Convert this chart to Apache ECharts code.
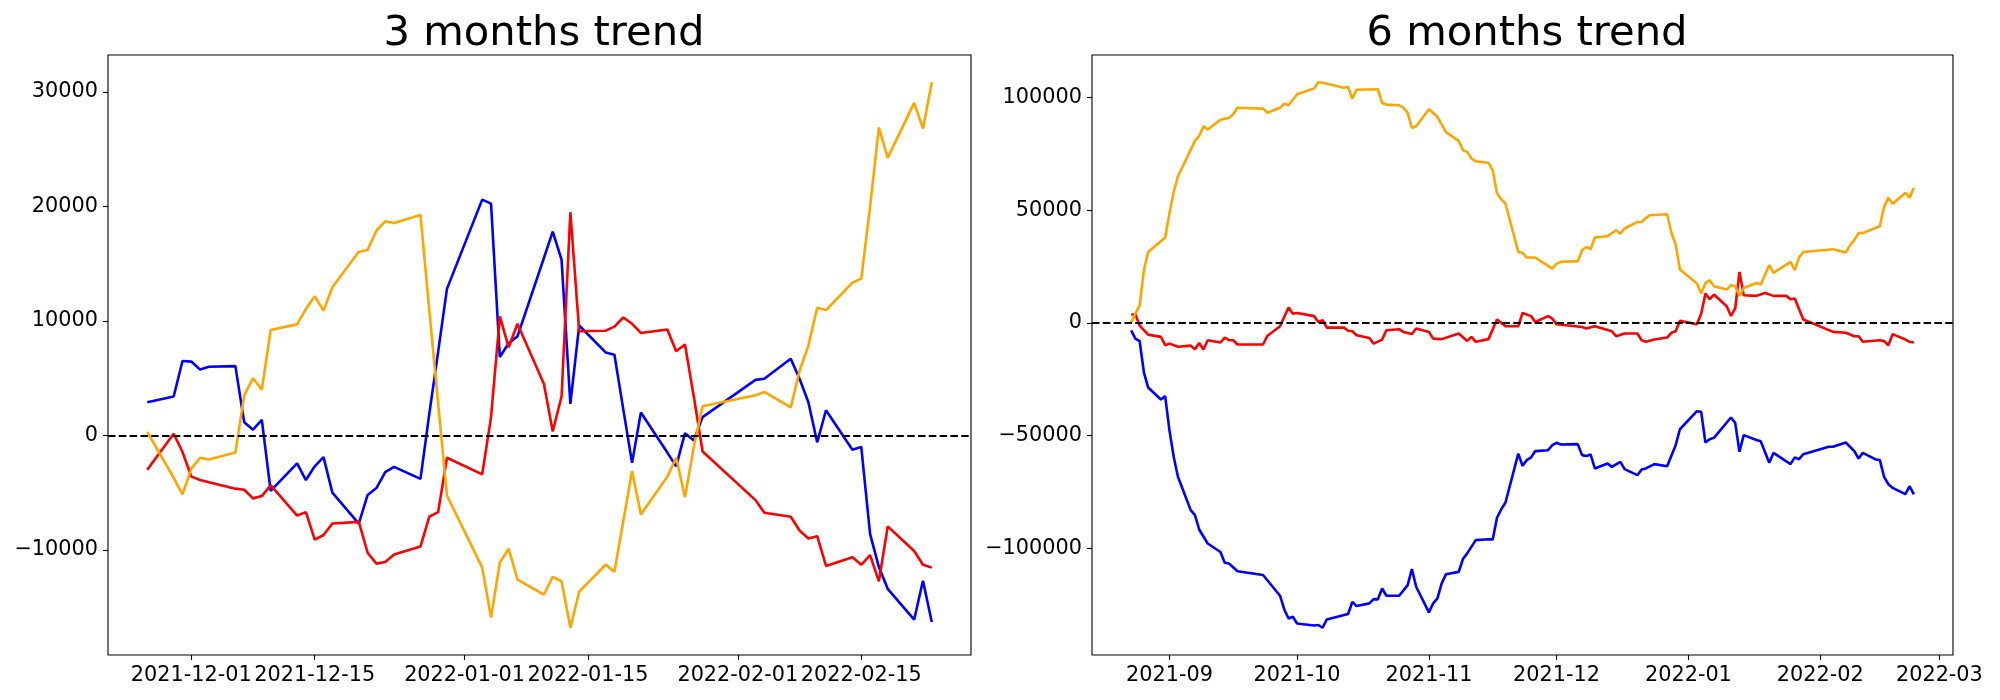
<!DOCTYPE html>
<html>
<head>
<meta charset="utf-8">
<script src="https://cdn.jsdelivr.net/npm/echarts@6/dist/echarts.min.js"></script>
<style>
html,body{margin:0;padding:0;background:#fff;}
#chart{width:2000px;height:700px;}
</style>
</head>
<body>
<div id="chart"></div>
<script>
// ---------- 3 months trend ----------
const leftDates = ['2021-11-26','2021-11-29','2021-11-30','2021-12-01','2021-12-02','2021-12-03','2021-12-06','2021-12-07','2021-12-08','2021-12-09',
'2021-12-10','2021-12-13','2021-12-14','2021-12-15','2021-12-16','2021-12-17','2021-12-20','2021-12-21','2021-12-22','2021-12-23',
'2021-12-24','2021-12-27','2021-12-28','2021-12-29','2021-12-30','2022-01-03','2022-01-04','2022-01-05','2022-01-06','2022-01-07',
'2022-01-10','2022-01-11','2022-01-12','2022-01-13','2022-01-14','2022-01-17','2022-01-18','2022-01-19','2022-01-20','2022-01-21',
'2022-01-24','2022-01-25','2022-01-26','2022-01-27','2022-01-28','2022-02-03','2022-02-04','2022-02-07','2022-02-08','2022-02-09',
'2022-02-10','2022-02-11','2022-02-14','2022-02-15','2022-02-16','2022-02-17','2022-02-18','2022-02-21','2022-02-22','2022-02-23'];
const leftBlue = [2900,3400,6500,6450,5750,6000,6050,1150,500,1350,
-4850,-2450,-3900,-2700,-1900,-5000,-7700,-5200,-4600,-3200,
-2750,-3800,1900,7300,12800,20600,20250,6850,8050,8650,
15500,17800,15350,2750,9600,7250,7050,2300,-2400,2000,
-1500,-2700,200,-450,1600,4850,4950,6700,4950,2900,
-600,2200,-1250,-1000,-8600,-11500,-13400,-16100,-12700,-16300];
const leftRed = [-3000,150,-1450,-3600,-3900,-4100,-4650,-4750,-5500,-5300,
-4350,-7000,-6700,-9100,-8700,-7700,-7550,-10250,-11200,-11050,
-10400,-9700,-7100,-6700,-1950,-3400,1600,10400,7700,9750,
4500,350,3400,19500,9100,9150,9500,10300,9750,8950,
9250,7350,7950,3400,-1400,-5650,-6750,-7100,-8300,-9000,
-8800,-11400,-10650,-11300,-10450,-12750,-7950,-10100,-11300,-11550];
const leftOrange = [300,-3700,-5150,-2900,-1950,-2100,-1500,3500,5000,4000,
9200,9700,11050,12150,10900,12950,16050,16200,17900,18700,
18550,19250,10900,2800,-5250,-11550,-15900,-11100,-9900,-12600,
-13900,-12350,-12750,-16800,-13650,-11300,-11900,-7500,-3100,-6900,
-3600,-1950,-5400,-1000,2550,3500,3800,2450,5650,7850,
11150,10950,13350,13700,20000,26900,24250,29050,26800,30850];
const leftXTicks = ['2021-12-01','2021-12-15','2022-01-01','2022-01-15','2022-02-01','2022-02-15'];
const leftYTicks = [-10000,0,10000,20000,30000];

// ---------- 6 months trend ----------
const rightOrangeDates = ['2021-08-23','2021-08-24','2021-08-25','2021-08-26','2021-08-27','2021-08-31',
'2021-09-01','2021-09-02','2021-09-03','2021-09-07','2021-09-08','2021-09-09','2021-09-10','2021-09-13','2021-09-15','2021-09-16','2021-09-17','2021-09-23','2021-09-24','2021-09-27','2021-09-28','2021-09-29',
'2021-10-01','2021-10-05','2021-10-06','2021-10-07','2021-10-12','2021-10-13','2021-10-14','2021-10-15','2021-10-20','2021-10-21','2021-10-22','2021-10-25','2021-10-26','2021-10-27','2021-10-28','2021-10-29',
'2021-11-01','2021-11-03','2021-11-05','2021-11-08','2021-11-09','2021-11-10','2021-11-11','2021-11-12','2021-11-15','2021-11-16','2021-11-17','2021-11-18','2021-11-19','2021-11-22','2021-11-23','2021-11-24','2021-11-26','2021-11-30',
'2021-12-01','2021-12-02','2021-12-06','2021-12-07','2021-12-08','2021-12-09','2021-12-10','2021-12-13','2021-12-14','2021-12-15','2021-12-16','2021-12-17','2021-12-20','2021-12-21','2021-12-22','2021-12-23','2021-12-27','2021-12-28','2021-12-29','2021-12-30',
'2022-01-03','2022-01-04','2022-01-05','2022-01-06','2022-01-07','2022-01-10','2022-01-11','2022-01-12','2022-01-13','2022-01-14','2022-01-17','2022-01-18','2022-01-20','2022-01-21','2022-01-25','2022-01-26','2022-01-27','2022-01-28',
'2022-02-04','2022-02-07','2022-02-08','2022-02-09','2022-02-10','2022-02-11','2022-02-15','2022-02-16','2022-02-17','2022-02-18','2022-02-21','2022-02-22','2022-02-23'];
const rightOrange = [0,4100,7800,23400,31500,37900,
48500,58100,65100,80800,83000,87300,85800,90200,91000,92600,95500,95100,93300,95500,97300,96600,
101500,104000,106800,106600,104400,104700,99500,103500,103700,97600,96900,96600,95500,93200,86500,87300,
94800,91400,84700,80800,76600,75900,72900,71700,71100,67700,57400,54900,52900,31500,31100,29000,29000,24100,
26300,27100,27400,32200,33700,32700,37900,38500,39900,41100,39600,41900,44800,44800,46600,47800,48200,39900,34800,23700,
17500,13000,17700,18900,16300,14800,16700,16300,12000,15500,17700,17000,25600,22200,27100,23400,29000,31500,
32700,31200,34500,36700,39900,39900,42900,51500,55600,52900,57700,55600,59900];

const rightRedDates = ['2021-08-23','2021-08-24','2021-08-25','2021-08-27','2021-08-30','2021-08-31',
'2021-09-01','2021-09-03','2021-09-06','2021-09-07','2021-09-08','2021-09-09','2021-09-10','2021-09-13','2021-09-14','2021-09-15','2021-09-16','2021-09-17','2021-09-23','2021-09-24','2021-09-27','2021-09-28','2021-09-29','2021-09-30',
'2021-10-01','2021-10-05','2021-10-06','2021-10-07','2021-10-08','2021-10-12','2021-10-13','2021-10-14','2021-10-15','2021-10-18','2021-10-19','2021-10-21','2021-10-22','2021-10-25','2021-10-26','2021-10-28','2021-10-29',
'2021-11-01','2021-11-02','2021-11-04','2021-11-08','2021-11-10','2021-11-11','2021-11-12','2021-11-15','2021-11-17','2021-11-19','2021-11-22','2021-11-23','2021-11-25','2021-11-26','2021-11-29','2021-11-30',
'2021-12-01','2021-12-07','2021-12-08','2021-12-10','2021-12-14','2021-12-15','2021-12-17','2021-12-20','2021-12-21','2021-12-22','2021-12-24','2021-12-27','2021-12-28','2021-12-29','2021-12-30',
'2022-01-03','2022-01-04','2022-01-05','2022-01-06','2022-01-07','2022-01-10','2022-01-11','2022-01-12','2022-01-13','2022-01-14','2022-01-17','2022-01-19','2022-01-21','2022-01-24','2022-01-25','2022-01-26','2022-01-28',
'2022-02-04','2022-02-07','2022-02-09','2022-02-10','2022-02-11','2022-02-15','2022-02-16','2022-02-17','2022-02-18','2022-02-21','2022-02-22','2022-02-23'];
const rightRed = [3700,3700,-1200,-5200,-6200,-9900,
-9200,-10600,-10100,-11700,-8900,-11800,-7700,-8700,-6500,-7700,-7700,-9600,-9600,-5800,-1500,2700,6800,4100,
4400,3000,400,1200,-2100,-2100,-3500,-3700,-5500,-6700,-9200,-7400,-3300,-2800,-4000,-4900,-2500,
-4000,-7000,-7200,-4700,-8000,-6200,-8400,-7200,1500,-1500,-1500,4400,3000,400,3000,1900,
-600,-1800,-2500,-1500,-3700,-5900,-4700,-4700,-7700,-8400,-7400,-6500,-4400,-3700,900,
-600,4100,13000,10500,12600,7400,3100,6400,22600,12300,12000,13300,12000,12000,10500,10800,1500,
-4000,-4400,-5900,-5900,-8400,-7700,-8100,-9900,-5000,-7400,-8400,-8700];

const rightBlueDates = ['2021-08-23','2021-08-24','2021-08-25','2021-08-26','2021-08-27','2021-08-30','2021-08-31',
'2021-09-01','2021-09-02','2021-09-03','2021-09-06','2021-09-07','2021-09-08','2021-09-10','2021-09-13','2021-09-14','2021-09-15','2021-09-17','2021-09-23','2021-09-27','2021-09-28','2021-09-29','2021-09-30',
'2021-10-01','2021-10-05','2021-10-06','2021-10-07','2021-10-08','2021-10-13','2021-10-14','2021-10-15','2021-10-18','2021-10-19','2021-10-20','2021-10-21','2021-10-22','2021-10-25','2021-10-27','2021-10-28','2021-10-29',
'2021-11-01','2021-11-02','2021-11-03','2021-11-04','2021-11-05','2021-11-08','2021-11-09','2021-11-10','2021-11-12','2021-11-15','2021-11-16','2021-11-17','2021-11-18','2021-11-19','2021-11-22','2021-11-23','2021-11-24','2021-11-25','2021-11-26','2021-11-29','2021-11-30',
'2021-12-01','2021-12-02','2021-12-06','2021-12-07','2021-12-08','2021-12-09','2021-12-10','2021-12-13','2021-12-14','2021-12-16','2021-12-17','2021-12-20','2021-12-21','2021-12-22','2021-12-24','2021-12-27','2021-12-29','2021-12-30',
'2022-01-03','2022-01-04','2022-01-05','2022-01-06','2022-01-07','2022-01-11','2022-01-12','2022-01-13','2022-01-14','2022-01-17','2022-01-18','2022-01-20','2022-01-21','2022-01-25','2022-01-26','2022-01-27','2022-01-28',
'2022-02-03','2022-02-04','2022-02-07','2022-02-09','2022-02-10','2022-02-11','2022-02-14','2022-02-15','2022-02-16','2022-02-17','2022-02-18','2022-02-21','2022-02-22','2022-02-23'];
const rightBlue = [-3300,-7000,-8100,-22000,-28700,-34000,-32500,
-47600,-59400,-68300,-83100,-85300,-91700,-97900,-101700,-106500,-106800,-110200,-111900,-121100,-127200,-131200,-130400,
-133400,-134300,-134100,-135300,-131600,-129200,-123800,-125700,-124500,-122600,-122700,-117900,-121100,-121100,-116400,-109300,-117100,
-128500,-124500,-122300,-115600,-111600,-110500,-104800,-102300,-96400,-96000,-96100,-86500,-82800,-79700,-58000,-63400,-60900,-59700,-56900,-56500,-54300,
-53200,-54000,-53800,-58700,-59100,-58400,-64600,-62400,-63900,-61700,-64900,-67600,-65100,-64600,-62700,-63600,-54300,-47200,
-39200,-39500,-53100,-51600,-51000,-42000,-44400,-57200,-49800,-52000,-52500,-62100,-57700,-62700,-59700,-60500,-58300,
-55000,-55000,-53100,-56900,-60200,-57700,-60600,-60900,-68300,-71600,-73200,-76000,-72500,-76100];
const rightXTicks = ['2021-09','2021-10','2021-11','2021-12','2022-01','2022-02','2022-03'];
const rightYTicks = [-100000,-50000,0,50000,100000];

const titles = ['3 months trend', '6 months trend'];
const colors = {blue:'#0000ff', red:'#ff0000', orange:'#ffa500'};

// ---------- helpers ----------
function ts(s){ const p = s.split('-').map(Number); return Date.UTC(p[0], p[1]-1, p[2] || 1); }
function pad(n){ return (n < 10 ? '0' : '') + n; }
function fmtDay(v){ const d = new Date(v); return d.getUTCFullYear() + '-' + pad(d.getUTCMonth()+1) + '-' + pad(d.getUTCDate()); }
function fmtMonth(v){ const d = new Date(v); return d.getUTCFullYear() + '-' + pad(d.getUTCMonth()+1); }
function fmtNum(v){ return String(v).replace('-', '\u2212'); }
function pairs(dates, vals){ return dates.map((d,i)=>[ts(d), vals[i]]); }
function span(a, b){ const m = (b-a)*0.05; return [a-m, b+m]; }
function yRange(arrs){ let lo = Infinity, hi = -Infinity; arrs.forEach(a=>a.forEach(v=>{ if(v<lo) lo=v; if(v>hi) hi=v; })); return span(lo, hi); }

const FONT = 'DejaVu Sans';
const lx = span(ts(leftDates[0]), ts(leftDates[leftDates.length-1]));
const rx = span(Math.min(ts(rightOrangeDates[0]), ts(rightRedDates[0]), ts(rightBlueDates[0])),
                Math.max(ts(rightOrangeDates[rightOrangeDates.length-1]), ts(rightRedDates[rightRedDates.length-1]), ts(rightBlueDates[rightBlueDates.length-1])));
const ly = yRange([leftBlue, leftRed, leftOrange]);
const ry = yRange([rightBlue, rightRed, rightOrange]);

function xAxisDef(grid, range, ticks, fmt){
  const vals = ticks.map(ts);
  return {
    type:'value', gridIndex:grid, min:range[0], max:range[1], scale:true, position:'bottom',
    axisLine:{show:false, onZero:false},
    axisTick:{show:true, length:5, inside:false, lineStyle:{color:'#000', width:1.1}, customValues:vals},
    axisLabel:{show:true, customValues:vals, formatter:fmt, fontSize:20.8, color:'#000', fontFamily:FONT, margin:10, hideOverlap:false},
    splitLine:{show:false}, minorTick:{show:false}
  };
}
function yAxisDef(grid, range, ticks){
  return {
    type:'value', gridIndex:grid, min:range[0], max:range[1], scale:true, position:'left',
    axisLine:{show:false, onZero:false},
    axisTick:{show:true, length:5, inside:false, lineStyle:{color:'#000', width:1.1}, customValues:ticks},
    axisLabel:{show:true, customValues:ticks, formatter:fmtNum, fontSize:20.8, color:'#000', fontFamily:FONT, margin:10},
    splitLine:{show:false}
  };
}
function lineSeries(xi, data, color, withZero){
  const s = {
    type:'line', xAxisIndex:xi, yAxisIndex:xi, data:data, showSymbol:false, symbol:'none',
    lineStyle:{color:color, width:2.6}, itemStyle:{color:color}, animation:false, silent:true
  };
  if (withZero) {
    s.markLine = {silent:true, symbol:'none', animation:false, label:{show:false},
      lineStyle:{color:'#000', type:[7.5,3.3], width:2.1}, data:[{yAxis:0}]};
  }
  return s;
}

const chart = echarts.init(document.getElementById('chart'), null, {renderer:'canvas'});
chart.setOption({
  backgroundColor:'#fff',
  animation:false,
  title:[
    {text:titles[0], left:539, top:8, textAlign:'center', textStyle:{fontSize:41.7, fontWeight:'normal', color:'#000', fontFamily:FONT}},
    {text:titles[1], left:1522, top:8, textAlign:'center', textStyle:{fontSize:41.7, fontWeight:'normal', color:'#000', fontFamily:FONT}}
  ],
  grid:[
    {left:108, top:55, width:863, height:600, show:true, borderColor:'#000', borderWidth:1.1, backgroundColor:'rgba(0,0,0,0)'},
    {left:1092, top:55, width:861, height:600, show:true, borderColor:'#000', borderWidth:1.1, backgroundColor:'rgba(0,0,0,0)'}
  ],
  xAxis:[
    xAxisDef(0, lx, leftXTicks, fmtDay),
    xAxisDef(1, rx, rightXTicks, fmtMonth)
  ],
  yAxis:[
    yAxisDef(0, ly, leftYTicks),
    yAxisDef(1, ry, rightYTicks)
  ],
  series:[
    lineSeries(0, pairs(leftDates, leftBlue), colors.blue, false),
    lineSeries(0, pairs(leftDates, leftRed), colors.red, false),
    lineSeries(0, pairs(leftDates, leftOrange), colors.orange, true),
    lineSeries(1, pairs(rightBlueDates, rightBlue), colors.blue, false),
    lineSeries(1, pairs(rightRedDates, rightRed), colors.red, false),
    lineSeries(1, pairs(rightOrangeDates, rightOrange), colors.orange, true)
  ]
});
</script>
</body>
</html>
